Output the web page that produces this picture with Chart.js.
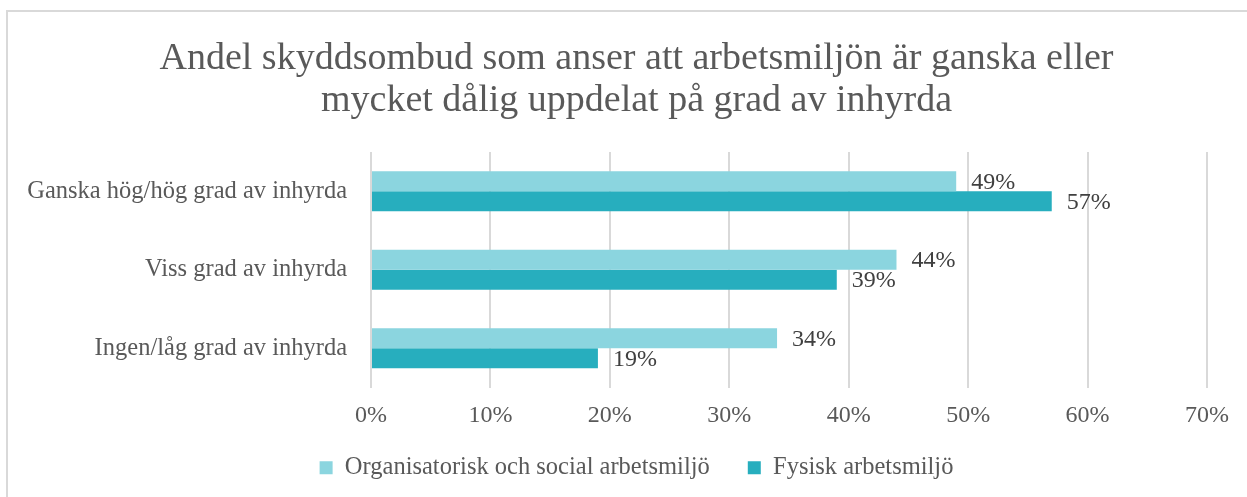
<!DOCTYPE html>
<html lang="sv">
<head>
    <meta charset="UTF-8">
    <title>Andel skyddsombud</title>
    <script src="https://cdn.jsdelivr.net/npm/chart.js"></script>
    <style>
        html, body { margin: 0; padding: 0; background: #fff; overflow: hidden; }
        .frame {
            position: absolute; left: 6px; top: 10px; width: 1400px; height: 700px;
            border: 2px solid #d9d9d9; box-sizing: border-box;
        }
        .chart-box { position: absolute; left: 8px; top: 12px; width: 1252px; height: 478px; }
    </style>
</head>
<body>
    <div class="frame"></div>
    <div class="chart-box">
        <canvas id="inhyrdaChart"></canvas>
    </div>

    <script>
        // Data
        const categories = ['Ganska hög/hög grad av inhyrda', 'Viss grad av inhyrda', 'Ingen/låg grad av inhyrda'];
        const orgSocial = [49, 44, 34];
        const fysisk = [57, 39, 19];
        const seriesNames = ['Organisatorisk och social arbetsmiljö', 'Fysisk arbetsmiljö'];
        const titleLines = ['Andel skyddsombud som anser att arbetsmiljön är ganska eller', 'mycket dålig uppdelat på grad av inhyrda'];

        const FONT = "'Liberation Serif', 'DejaVu Serif', serif";
        const GRAY = '#595959';

        // värden efter staplarna
        const barLabels = {
            id: 'barLabels',
            afterDatasetsDraw(chart) {
                const ctx = chart.ctx;
                ctx.save();
                ctx.font = '24px ' + FONT;
                ctx.fillStyle = '#404040';
                ctx.textAlign = 'left';
                ctx.textBaseline = 'middle';
                chart.data.datasets.forEach((ds, i) => {
                    chart.getDatasetMeta(i).data.forEach((bar, j) => {
                        ctx.fillText(ds.data[j] + '%', bar.x + 15, bar.y + 1);
                    });
                });
                ctx.restore();
            }
        };

        const ctx = document.getElementById('inhyrdaChart').getContext('2d');
        new Chart(ctx, {
            type: 'bar',
            data: {
                labels: categories,
                datasets: [
                    {
                        label: seriesNames[0],
                        data: orgSocial,
                        backgroundColor: '#8BD5DF',
                        categoryPercentage: 0.51,
                        barPercentage: 1
                    },
                    {
                        label: seriesNames[1],
                        data: fysisk,
                        backgroundColor: '#27AEBE',
                        categoryPercentage: 0.51,
                        barPercentage: 1
                    }
                ]
            },
            options: {
                indexAxis: 'y',
                responsive: true,
                maintainAspectRatio: false,
                animation: false,
                layout: { padding: { left: 58, right: 53, top: 0, bottom: 0 } },
                plugins: {
                    title: {
                        display: true,
                        text: titleLines,
                        color: GRAY,
                        font: { family: FONT, size: 38, weight: 'normal', lineHeight: 1.105 },
                        padding: { top: 26, bottom: 30 }
                    },
                    legend: {
                        position: 'bottom',
                        labels: {
                            color: GRAY,
                            font: { family: FONT, size: 24.5 },
                            boxWidth: 13,
                            boxHeight: 13,
                            padding: 38
                        }
                    },
                    tooltip: { enabled: false }
                },
                scales: {
                    x: {
                        min: 0,
                        max: 70,
                        ticks: {
                            stepSize: 10,
                            color: GRAY,
                            font: { family: FONT, size: 24 },
                            padding: 14,
                            callback: v => v + '%'
                        },
                        grid: { color: '#d9d9d9', lineWidth: 2, drawTicks: false },
                        border: { display: false },
                        afterFit: scale => {
                            scale.height = 30;
                            // låt etiketterna ritas utanför den smala axelrutan
                            scale._computeLabelArea = () => null;
                        }
                    },
                    y: {
                        ticks: {
                            color: GRAY,
                            font: { family: FONT, size: 24.5 },
                            padding: 24
                        },
                        grid: { display: false, drawTicks: false },
                        border: { display: false },
                        afterFit: scale => {
                            scale.width = 305;
                            scale._computeLabelArea = () => null;
                        }
                    }
                }
            },
            plugins: [barLabels]
        });
    </script>
</body>
</html>
